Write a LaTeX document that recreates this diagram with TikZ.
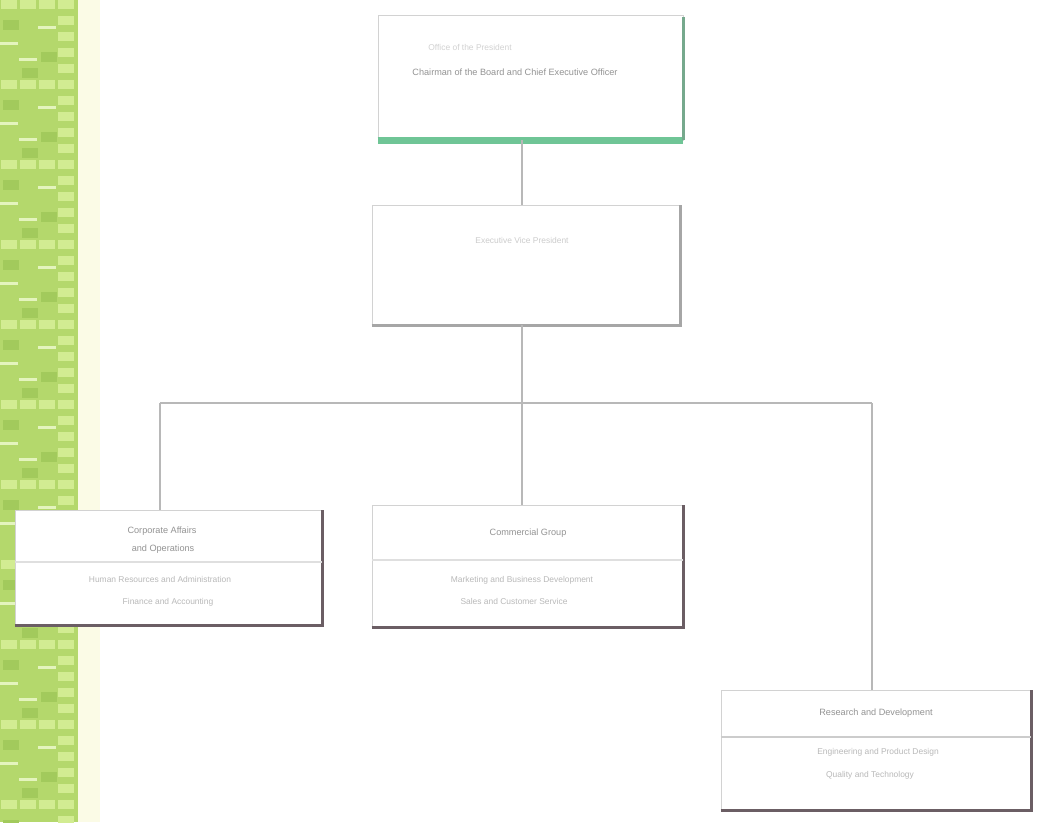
\documentclass[tikz,border=0pt]{standalone}
\usepackage{fontspec}
\setmainfont{Liberation Sans}
\usetikzlibrary{positioning,calc}
\definecolor{laub}{HTML}{B4D86C}
\definecolor{laubhell}{HTML}{D2EC92}
\definecolor{laubdunkel}{HTML}{A2CA5C}
\definecolor{creme}{HTML}{FBFBE6}
\definecolor{balken}{HTML}{6FC596}
\definecolor{schatten}{HTML}{6B5E64}
\definecolor{linie}{HTML}{B8B8B8}
\tikzset{
  kasten/.style={draw=gray!35, fill=white, line width=0.6pt, inner sep=0pt},
  titel/.style={font=\fontsize{6.5}{8}\selectfont, text=gray!85},
  zeile/.style={font=\fontsize{6}{7.5}\selectfont, text=gray!55},
}
\begin{document}
\begin{tikzpicture}[x=0.025cm, y=-0.025cm, line cap=butt]
\useasboundingbox (0,0) rectangle (1043,822);
\fill[white] (0,0) rectangle (1043,822);
% gruener Streifen links (Muster)
\fill[laub] (0,0) rectangle (78,822);
\foreach \i in {0,...,51} {
  \foreach \j in {0,1,2,3} {
    \pgfmathtruncatemacro{\k}{mod(\i*7+\j*5+\i*\j,5)}
    \ifnum\k=0 \fill[laubhell] ({\j*19+1},{\i*16}) rectangle ({\j*19+17},{\i*16+9}); \fi
    \ifnum\k=2 \fill[laubdunkel] ({\j*19+3},{\i*16+4}) rectangle ({\j*19+19},{\i*16+14}); \fi
    \ifnum\k=4 \fill[laubhell!60!white] ({\j*19},{\i*16+10}) rectangle ({\j*19+18},{\i*16+13}); \fi
  }
}
\fill[creme] (78,0) rectangle (100,822);
% Kaesten
\node[kasten, minimum width=305*0.025cm, minimum height=125*0.025cm] (chef) at (530.5,77.5) {};
\node[kasten, minimum width=308*0.025cm, minimum height=120*0.025cm] (vize) at (526,265) {};
\node[kasten, minimum width=307*0.025cm, minimum height=115*0.025cm] (links) at (168.5,567.5) {};
\node[kasten, minimum width=311*0.025cm, minimum height=122*0.025cm] (mitte) at (527.5,566) {};
\node[kasten, minimum width=310*0.025cm, minimum height=120*0.025cm] (rechts) at (876,750) {};
% Schatten
\draw[balken, line width=4.5pt] (chef.south west) -- (chef.south east);
\draw[balken!60!gray, line width=2pt] ([yshift=-2pt]chef.north east) -- (chef.south east);
\draw[gray!70, line width=2.5pt] (vize.south west) -- (vize.south east) -- (vize.north east);
\draw[schatten, line width=2.5pt] (links.south west) -- (links.south east) -- (links.north east);
\draw[schatten, line width=2.5pt] (mitte.south west) -- (mitte.south east) -- (mitte.north east);
\draw[schatten, line width=2.5pt] (rechts.south west) -- (rechts.south east) -- (rechts.north east);
% Verbindungen
\coordinate (J)  at (522,403);
\coordinate (JL) at (160,403);
\coordinate (JR) at (872,403);
\draw[linie, line width=1.4pt] (J |- chef.south) -- (J |- vize.north);
\draw[linie, line width=1.4pt] (J |- vize.south) -- (J);
\draw[linie, line width=1.4pt] (JL) -- (JR);
\draw[linie, line width=1.4pt] (JL) -- (JL |- links.north);
\draw[linie, line width=1.4pt] (J) -- (J |- mitte.north);
\draw[linie, line width=1.4pt] (JR) -- (JR |- rechts.north);
% Trennlinien
\draw[gray!25, line width=0.8pt] (links.west |- 0,562) -- (links.east |- 0,562);
\draw[gray!25, line width=0.8pt] (mitte.west |- 0,560) -- (mitte.east |- 0,560);
\draw[gray!40, line width=0.8pt] (rechts.west |- 0,737) -- (rechts.east |- 0,737);
% Texte
\node[zeile, text=gray!35] (chef1) at (470,47) {Office of the President};
\node[titel] (chef2) at (515,72) {Chairman of the Board and Chief Executive Officer};
\node[zeile, text=gray!40] (vize1) at (522,240) {Executive Vice President};
\node[titel] (links1) at (162,531) {Corporate Affairs};
\node[titel] (links2) at (163,549) {and Operations};
\node[zeile] (links3) at (160,579) {Human Resources and Administration};
\node[zeile] (links4) at (168,602) {Finance and Accounting};
\node[titel] (mitte1) at (528,533) {Commercial Group};
\node[zeile] (mitte2) at (522,580) {Marketing and Business Development};
\node[zeile] (mitte3) at (514,601) {Sales and Customer Service};
\node[titel] (rechts1) at (876,713) {Research and Development};
\node[zeile] (rechts2) at (878,752) {Engineering and Product Design};
\node[zeile] (rechts3) at (870,775) {Quality and Technology};
\end{tikzpicture}
\end{document}
